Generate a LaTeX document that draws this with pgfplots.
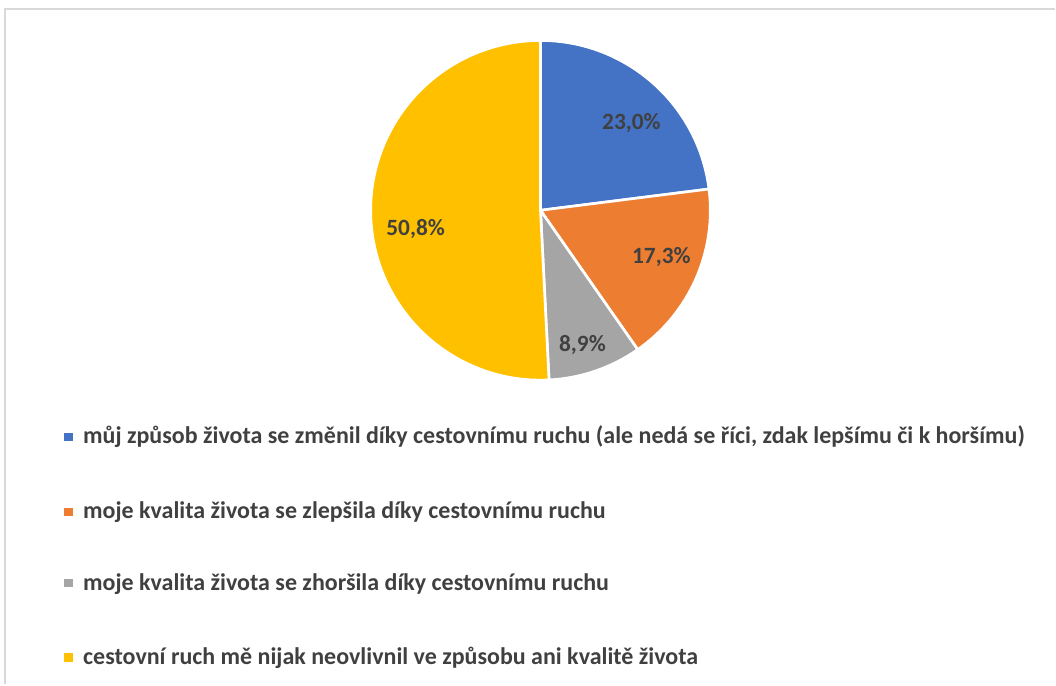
\documentclass[border=0pt]{standalone}
\usepackage{fontspec}
\setmainfont{Carlito}
\usepackage{pgfplots}
\pgfplotsset{compat=1.18}
\definecolor{pblue}{RGB}{68,114,196}
\definecolor{porange}{RGB}{237,125,49}
\definecolor{pgray}{RGB}{165,165,165}
\definecolor{pyellow}{RGB}{255,192,0}
\definecolor{txt}{RGB}{64,64,64}
\definecolor{frame}{RGB}{217,217,217}

\begin{document}
\begin{tikzpicture}
% 1 axis unit = 1 px of the reference (0.75pt)
\begin{axis}[scale only axis, width=792pt, height=513.75pt,
  xmin=0, xmax=1056, ymin=0, ymax=685, hide axis, clip=false]
\path (axis cs:0,0) rectangle (axis cs:1056,685);
\draw[frame, line width=1.5pt] (axis cs:5,0) -- (axis cs:5,676) -- (axis cs:1056,676);

% pie: shares in percent, clockwise from 12 o'clock
\xdef\pieang{90}
\foreach \v/\c in {23.0/pblue, 17.3/porange, 8.9/pgray, 50.8/pyellow}{
  \pgfmathsetmacro\pied{-3.6*\v}
  \edef\temp{\noexpand\filldraw[fill=\c, draw=white, line width=2pt]
    (axis cs:541,474.5) -- ++(\pieang:127.5pt)
    arc[start angle=\pieang, delta angle=\pied, radius=127.5pt] -- cycle;}
  \temp
  \pgfmathsetmacro\pienext{\pieang+\pied}
  \xdef\pieang{\pienext}
}

\begin{scope}[every node/.style={font=\fontsize{17.5}{20}\selectfont\bfseries, text=txt}]
\node at (axis cs:632,562) {23,0\%};
\node at (axis cs:662,428) {17,3\%};
\node at (axis cs:583,340) {8,9\%};
\node at (axis cs:416,456) {50,8\%};
\end{scope}

% legend
\begin{scope}[every node/.style={font=\fontsize{18}{20}\selectfont\bfseries, text=txt, anchor=base west, inner sep=0pt}]
\fill[pblue] (axis cs:64,244) rectangle (axis cs:73,252);
\node at (axis cs:83,241) {můj způsob života se změnil díky cestovnímu ruchu (ale nedá se říci, zdak lepšímu či k horšímu)};
\fill[porange] (axis cs:64,169) rectangle (axis cs:73,177);
\node at (axis cs:83,166) {moje kvalita života se zlepšila díky cestovnímu ruchu};
\fill[pgray] (axis cs:64,97) rectangle (axis cs:73,105);
\node at (axis cs:83,94) {moje kvalita života se zhoršila díky cestovnímu ruchu};
\fill[pyellow] (axis cs:64,22) rectangle (axis cs:73,31);
\node at (axis cs:83,19.5) {cestovní ruch mě nijak neovlivnil ve způsobu ani kvalitě života};
\end{scope}
\end{axis}
\end{tikzpicture}
\end{document}
